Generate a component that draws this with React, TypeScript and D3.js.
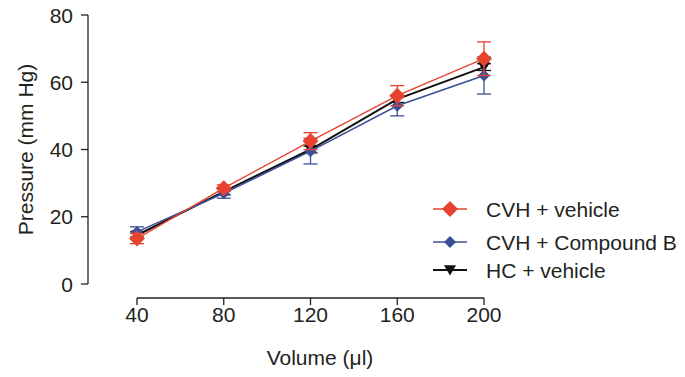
import * as d3 from 'd3';

const volumes = [40, 80, 120, 160, 200];
const cvhVehicle = [13.5, 28.5, 42.5, 56, 67];
const cvhVehicleErr = [1.5, 1, 2.5, 3, 5];
const cvhCompoundB = [15.5, 27, 39.5, 53, 62];
const cvhCompoundBErr = [1.5, 1.5, 3.8, 3, 5.5];
const hcVehicle = [14.5, 27.5, 40, 55, 64.5];
const hcVehicleErr = [1, 1, 1, 1, 1];
const yTicks = [0, 20, 40, 60, 80];

const series = [
  { name: 'HC + vehicle', values: hcVehicle, err: hcVehicleErr, color: '#111111', marker: 'tri', lw: 2, size: 6 },
  { name: 'CVH + Compound B', values: cvhCompoundB, err: cvhCompoundBErr, color: '#3b4f95', marker: 'diamond', lw: 1.5, size: 6 },
  { name: 'CVH + vehicle', values: cvhVehicle, err: cvhVehicleErr, color: '#e8432f', marker: 'diamond', lw: 1.3, size: 8 },
];
const legendOrder = ['CVH + vehicle', 'CVH + Compound B', 'HC + vehicle'];

function markerPath(kind: string, s: number) {
  if (kind === 'diamond') return `M0,${-s}L${s},0L0,${s}L${-s},0Z`;
  return `M${-s},${-s * 0.8}L${s},${-s * 0.8}L0,${s * 0.9}Z`;
}

export default function App() {
  const width = 685;
  const height = 377;
  const x = d3.scaleLinear().domain([40, 200]).range([137, 484]);
  const y = d3.scaleLinear().domain([0, 80]).range([284, 15]);
  const line = d3.line<number>().x((_, i) => x(volumes[i])).y(d => y(d));
  const font = '"Liberation Sans", Arial, sans-serif';
  const ink = '#231f20';
  const fs = 21;

  return (
    <svg width={width} height={height} style={{ position: 'absolute', left: 0, top: 0, fontFamily: font }}>
      <rect width={width} height={height} fill="#fff" />
      {/* y axis */}
      <line x1={88} x2={88} y1={y(80)} y2={y(0)} stroke={ink} strokeWidth={1.3} />
      {yTicks.map(t => (
        <g key={t}>
          <line x1={81} x2={88} y1={y(t)} y2={y(t)} stroke={ink} strokeWidth={1.3} />
          <text x={73} y={y(t)} dy="0.36em" textAnchor="end" fontSize={fs} fill={ink}>{t}</text>
        </g>
      ))}
      <text transform={`translate(25,${(y(0) + y(80)) / 2}) rotate(-90)`} textAnchor="middle" dy="0.36em" fontSize={fs} fill={ink}>Pressure (mm Hg)</text>
      {/* x axis */}
      <line x1={x(40)} x2={x(200)} y1={298} y2={298} stroke={ink} strokeWidth={1.3} />
      {volumes.map(v => (
        <g key={v}>
          <line x1={x(v)} x2={x(v)} y1={298} y2={305} stroke={ink} strokeWidth={1.3} />
          <text x={x(v)} y={314} dy="0.36em" textAnchor="middle" fontSize={fs} fill={ink}>{v}</text>
        </g>
      ))}
      <text x={320} y={357} dy="0.36em" textAnchor="middle" fontSize={fs} fill={ink}>Volume (μl)</text>
      {/* series */}
      {series.map(s => (
        <g key={s.name}>
          <path d={line(s.values) || ''} fill="none" stroke={s.color} strokeWidth={s.lw} />
          {s.values.map((v, i) => (
            <g key={i}>
              <line x1={x(volumes[i])} x2={x(volumes[i])} y1={y(v - s.err[i])} y2={y(v + s.err[i])} stroke={s.color} strokeWidth={1.3} />
              <line x1={x(volumes[i]) - 7} x2={x(volumes[i]) + 7} y1={y(v - s.err[i])} y2={y(v - s.err[i])} stroke={s.color} strokeWidth={1.3} />
              <line x1={x(volumes[i]) - 7} x2={x(volumes[i]) + 7} y1={y(v + s.err[i])} y2={y(v + s.err[i])} stroke={s.color} strokeWidth={1.3} />
              <path d={markerPath(s.marker, s.size)} transform={`translate(${x(volumes[i])},${y(v)})`} fill={s.color} />
            </g>
          ))}
        </g>
      ))}
      {/* legend */}
      {legendOrder.map((name, i) => {
        const s = series.find(d => d.name === name)!;
        const ly = [209, 242, 270][i];
        return (
          <g key={name}>
            <line x1={433} x2={467} y1={ly} y2={ly} stroke={s.color} strokeWidth={s.lw} />
            <path d={markerPath(s.marker, s.size)} transform={`translate(450,${ly})`} fill={s.color} />
            <text x={486} y={ly} dy="0.36em" fontSize={fs} fill={ink}>{name}</text>
          </g>
        );
      })}
    </svg>
  );
}
